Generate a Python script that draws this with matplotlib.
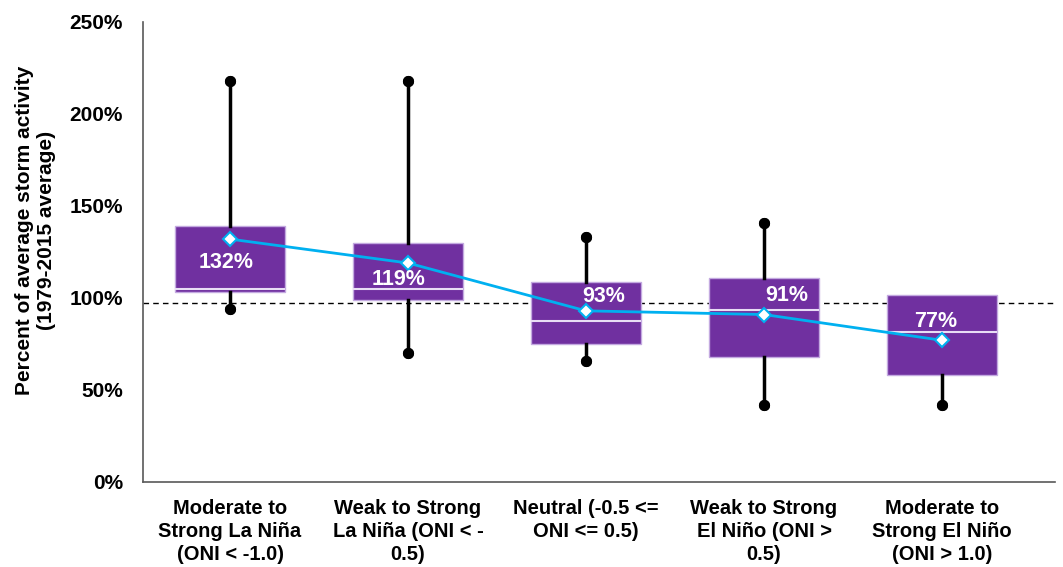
import matplotlib
matplotlib.use("Agg")
import matplotlib.pyplot as plt

categories = [
    "Moderate to\nStrong La Niña\n(ONI < -1.0)",
    "Weak to Strong\nLa Niña (ONI < -\n0.5)",
    "Neutral (-0.5 <=\nONI <= 0.5)",
    "Weak to Strong\nEl Niño (ONI >\n0.5)",
    "Moderate to\nStrong El Niño\n(ONI > 1.0)",
]
whisker_low = [94, 70, 66, 42, 42]
q1 = [103, 99, 75, 68, 58]
medians = [105, 105, 87.5, 93.5, 81.5]
q3 = [139, 130, 108.5, 111, 101.5]
whisker_high = [218, 218, 133, 141, 101.5]
means = [132, 119, 93, 91, 77]
mean_labels = ["132%", "119%", "93%", "91%", "77%"]
reference_level = 97

# label offsets (points) relative to the mean marker
label_offsets = [(-3, -17), (-6.5, -12), (13, 10.5), (16.5, 14), (-4.5, 13.5)]

PURPLE = "#7030A0"
BLUE = "#00B0F0"

plt.rcParams["font.family"] = ["Liberation Sans", "DejaVu Sans"]
plt.rcParams["font.weight"] = "bold"

fig = plt.figure(figsize=(10.63, 5.67), dpi=100)
ax = fig.add_axes([0.1345, 0.15, 0.8580, 0.8112])

stats = []
for i in range(len(categories)):
    stats.append({
        "whislo": whisker_low[i], "q1": q1[i], "med": medians[i],
        "q3": q3[i], "whishi": whisker_high[i], "mean": means[i],
    })

positions = list(range(len(categories)))
bp = ax.bxp(
    stats, positions=positions, widths=0.62, patch_artist=True,
    showmeans=False, showfliers=False, capwidths=0,
    boxprops=dict(facecolor=PURPLE, edgecolor="#C3A9E0", linewidth=1),
    medianprops=dict(color="#E8DDF5", linewidth=1.5),
    whiskerprops=dict(color="black", linewidth=2.5),
    capprops=dict(color="black", marker="o", markersize=7, linewidth=0),
    zorder=2,
)
# no upper whisker where max equals the upper quartile
for i in range(len(categories)):
    if whisker_high[i] <= q3[i]:
        bp["caps"][2 * i + 1].set_visible(False)
        bp["whiskers"][2 * i + 1].set_visible(False)

ax.axhline(reference_level, color="black", linestyle=(0, (4, 3)), linewidth=1, zorder=1)

ax.plot(positions, means, color=BLUE, linewidth=2, marker="D", markersize=7,
        markerfacecolor="white", markeredgecolor=BLUE, markeredgewidth=1.5, zorder=4)

for i, lab in enumerate(mean_labels):
    ax.annotate(lab, (positions[i], means[i]), xytext=label_offsets[i],
                textcoords="offset points", ha="center", va="center",
                color="white", fontsize=15.5, fontweight="bold", zorder=5)

ax.set_xlim(-0.489, 4.635)
ax.set_ylim(0, 250)
ax.set_yticks([0, 50, 100, 150, 200, 250])
ax.set_yticklabels([f"{v}%" for v in [0, 50, 100, 150, 200, 250]])
ax.set_xticks(positions)
ax.set_xticklabels(categories, fontsize=14.5, fontweight="bold", linespacing=1.25)
ax.tick_params(axis="y", length=0, pad=14.5, labelsize=15)
ax.tick_params(axis="x", length=0, pad=12.5)
ax.set_ylabel("Percent of average storm activity\n(1979-2015 average)",
              fontsize=15, fontweight="bold", linespacing=1.25)
ax.yaxis.set_label_coords(-0.095, 0.546)

for side in ["top", "right"]:
    ax.spines[side].set_visible(False)
for side in ["left", "bottom"]:
    ax.spines[side].set_color("#595959")
    ax.spines[side].set_linewidth(1.2)

fig.savefig("out.png", dpi=100)
